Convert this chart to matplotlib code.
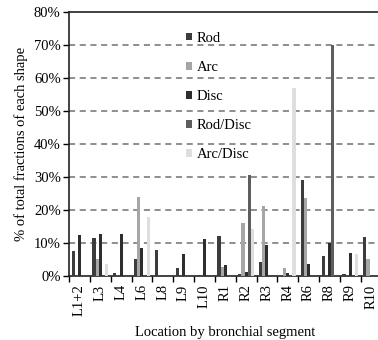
import numpy as np
import matplotlib
matplotlib.use("Agg")
import matplotlib.pyplot as plt

plt.rcParams['font.family'] = ['Liberation Serif', 'DejaVu Serif']

# Data (% of total fractions of each shape)
segments = ["L1+2", "L3", "L4", "L6", "L8", "L9", "L10", "R1", "R2", "R3",
            "R4", "R6", "R8", "R9", "R10"]
rod = [7.6, 11.4, 0.8, 5.2, 7.8, 2.4, 0.3, 12.2, 0.6, 4.1, 0.0, 29.2, 6.1, 0.5, 11.8]
arc = [0.0, 5.2, 0.0, 24.0, 0.0, 0.0, 0.0, 2.6, 16.0, 21.3, 2.4, 23.5, 0.0, 0.0, 5.1]
disc = [12.4, 12.7, 12.7, 8.6, 0.0, 6.8, 11.2, 3.2, 1.2, 9.3, 0.8, 3.6, 10.0, 7.0, 0.0]
rod_disc = [0, 0, 0, 0, 0, 0, 0, 0, 30.5, 0, 0, 0, 70.0, 0, 0]
arc_disc = [0, 3.5, 0, 18.0, 0, 0, 0, 0, 14.2, 0, 57.0, 0, 0, 6.8, 0]

series = [("Rod", rod, "#3c3c3c"),
          ("Arc", arc, "#a6a6a6"),
          ("Disc", disc, "#2e2e2e"),
          ("Rod/Disc", rod_disc, "#5e5e5e"),
          ("Arc/Disc", arc_disc, "#dedede")]

fig = plt.figure(figsize=(3.78, 3.40), dpi=100)
# right edge of the plot area runs just past the picture edge
ax = fig.add_axes([69 / 378, 1 - 276 / 340, 312.5 / 378, 264 / 340])

x = np.arange(len(segments))
w = 0.15
handles = []
for i, (name, vals, col) in enumerate(series):
    b = ax.bar(x + (i - 2) * w, vals, width=w, color=col, label=name, zorder=3)
    handles.append(b)

ax.set_xlim(-0.5, len(segments) - 0.5)
ax.set_ylim(0, 80)
ax.set_yticks(np.arange(0, 81, 10))
ax.set_yticklabels([f"{v}%" for v in range(0, 81, 10)], fontsize=10.5)
ax.set_xticks(x)
ax.set_xticklabels(segments, rotation=90, fontsize=10.5)
ax.set_xticks(np.arange(-0.5, len(segments), 1), minor=True)
ax.tick_params(axis='x', which='major', length=0, pad=6)
ax.tick_params(axis='x', which='minor', length=4, direction='out', width=1)
ax.tick_params(axis='y', length=4, direction='out', width=1, pad=2)

# dashed gridlines
for v in range(10, 80, 10):
    ax.axhline(v, color="#707070", linestyle=(0, (4, 3)), linewidth=1.1, zorder=1)

for s in ax.spines.values():
    s.set_linewidth(1.2)
    s.set_color("#222222")

ax.set_ylabel("% of total fractions of each shape", fontsize=10.5, labelpad=4)
ax.set_xlabel("Location by bronchial segment", fontsize=10.5, labelpad=7)

fig.legend(handles=handles, loc="upper left", bbox_to_anchor=(186 / 378, 1 - 32 / 340),
           frameon=False, fontsize=10.5, handlelength=0.4, handleheight=0.4,
           handletextpad=0.35, labelspacing=1.1, borderpad=0, borderaxespad=0)

fig.savefig("out.png", dpi=100)
